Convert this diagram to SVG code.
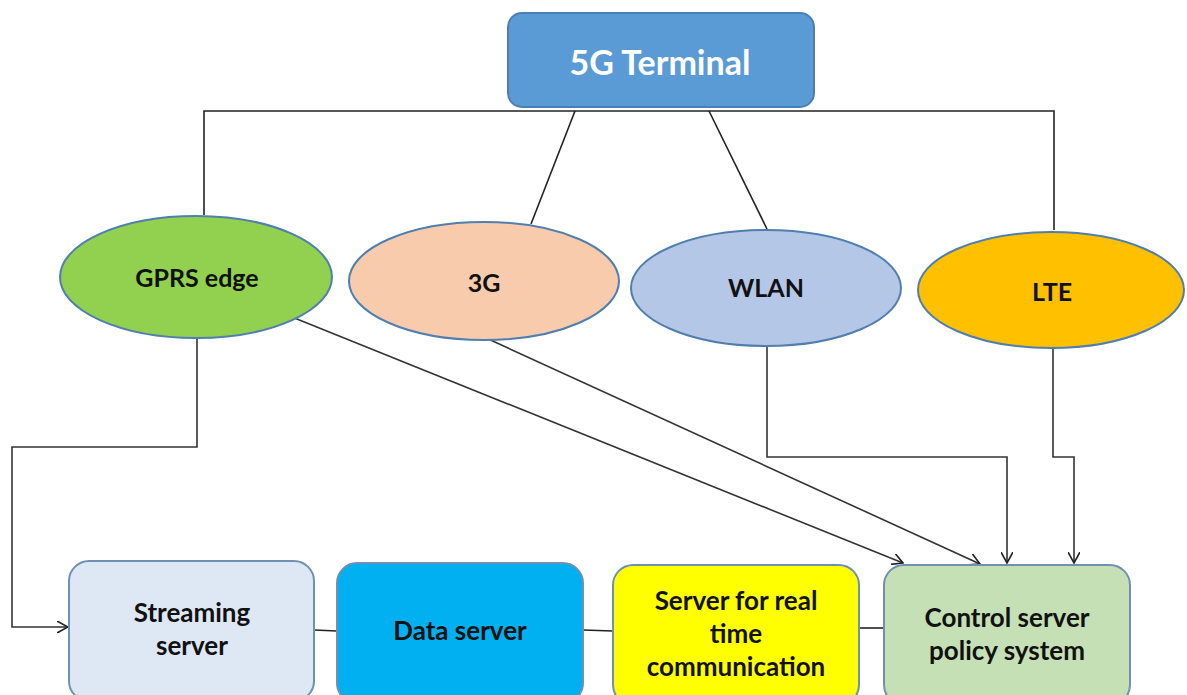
<svg xmlns="http://www.w3.org/2000/svg" width="1187" height="695" viewBox="0 0 1187 695">
<style>
.lbl{font-family:Lato,"Liberation Sans",sans-serif;font-weight:bold;fill:#111;text-anchor:middle;dominant-baseline:central}
.ell{stroke:#4f7fae;stroke-width:2}
.box{stroke:#6f90b5;stroke-width:2}
.con{fill:none;stroke:#222;stroke-width:1.6}
.arr{fill:none;stroke:#333;stroke-width:1.6;marker-end:url(#ah)}
</style>
<defs>
<marker id="ah" viewBox="0 0 12 12" refX="11" refY="6" markerWidth="12" markerHeight="12" markerUnits="userSpaceOnUse" orient="auto">
<path d="M0,0 L11,6 L0,12" fill="none" stroke="#222" stroke-width="1.6"/>
</marker>
</defs>
<rect width="1187" height="695" fill="#fff"/>
<g id="connectors">
<path class="con" d="M204,215 V111 H1054 V230"/>
<line class="con" x1="575" y1="111" x2="531" y2="224"/>
<line class="con" x1="709" y1="111" x2="767" y2="229"/>
<path class="arr" d="M197,338 V447 H12 V627 H68"/>
<line class="arr" x1="287" y1="315" x2="903" y2="563"/>
<line class="arr" x1="486" y1="338" x2="980" y2="564"/>
<path class="arr" d="M767,346 V457 H1007 V563"/>
<path class="arr" d="M1053,348 V457 H1074 V563"/>
<line class="con" x1="314" y1="630" x2="337" y2="631"/>
<line class="con" x1="583" y1="630" x2="613" y2="631"/>
<line class="con" x1="859" y1="628" x2="884" y2="628"/>
</g>
<g id="terminal">
<rect x="508" y="13" width="306" height="94" rx="14" fill="#5b9bd5" stroke="#4a7fb5" stroke-width="2"/>
<text class="lbl" x="660" y="61" font-size="34" style="fill:#fff">5G Terminal</text>
</g>
<g id="gprs">
<ellipse class="ell" cx="196" cy="277" rx="136" ry="61" fill="#92d050"/>
<text class="lbl" x="197" y="277" font-size="25">GPRS edge</text>
</g>
<g id="g3">
<ellipse class="ell" cx="484" cy="281" rx="135" ry="59" fill="#f8cbad"/>
<text class="lbl" x="484" y="282" font-size="25">3G</text>
</g>
<g id="wlan">
<ellipse class="ell" cx="766" cy="288" rx="135" ry="58" fill="#b4c7e7"/>
<text class="lbl" x="766" y="287" font-size="25">WLAN</text>
</g>
<g id="lte">
<ellipse class="ell" cx="1051" cy="290" rx="133" ry="58" fill="#ffc000"/>
<text class="lbl" x="1052" y="291" font-size="25">LTE</text>
</g>
<g id="streaming">
<rect class="box" x="69" y="561" width="245" height="140" rx="20" fill="#dee8f5"/>
<text class="lbl" x="192" y="612" font-size="26">Streaming</text>
<text class="lbl" x="192" y="645" font-size="26">server</text>
</g>
<g id="data">
<rect class="box" x="337" y="563" width="246" height="140" rx="20" fill="#00b0f0"/>
<text class="lbl" x="460" y="630" font-size="26">Data server</text>
</g>
<g id="realtime">
<rect class="box" x="613" y="565" width="246" height="140" rx="20" fill="#ffff00"/>
<text class="lbl" x="736" y="600" font-size="26">Server for real</text>
<text class="lbl" x="736" y="633" font-size="26">time</text>
<text class="lbl" x="736" y="666" font-size="26">communication</text>
</g>
<g id="control">
<rect class="box" x="884" y="565" width="246" height="140" rx="20" fill="#c5e0b4"/>
<text class="lbl" x="1007" y="617" font-size="26">Control server</text>
<text class="lbl" x="1007" y="650" font-size="26">policy system</text>
</g>
</svg>
